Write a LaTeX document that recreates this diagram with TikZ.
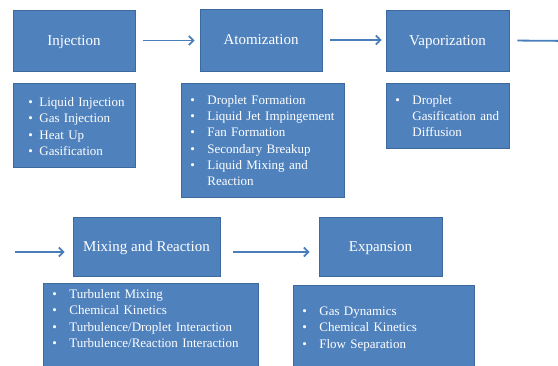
\documentclass[tikz,border=0pt]{standalone}
\usepackage{fontspec}
\setmainfont{Liberation Serif}
\usepackage{tikz}
\usetikzlibrary{arrows.meta, positioning}

\definecolor{boxblue}{HTML}{4F81BD}
\definecolor{boxline}{HTML}{3D6A9E}
\definecolor{arrowblue}{HTML}{4A7EBB}

% bullet line: optional indent of the bullet, text always 26pt in
\newcommand{\bl}[2][9pt]{\mbox{\hspace*{#1}\makebox[\dimexpr26pt-#1\relax][l]{\textbullet}#2}}
\newcommand{\cl}[1]{\mbox{\hspace*{26pt}#1}}

\begin{document}
\begin{tikzpicture}[
    x=1pt, y=1pt,
    stage/.style={rectangle, draw=boxline, fill=boxblue, line width=0.8pt, text=white,
        font=\fontsize{15}{18}\selectfont, inner sep=0pt, text height=10pt, text depth=0pt},
    list/.style={rectangle, draw=boxline, fill=boxblue, line width=0.8pt, text=white,
        font=\fontsize{13}{16.3}\selectfont, inner sep=0pt, align=left, anchor=north west},
    arr/.style={-{Straight Barb[length=4.5pt, width=9pt]}, line width=1.8pt, arrowblue}
    ]
    \useasboundingbox (0,0) rectangle (558,365);

    % Stages, top row
    \node[stage, minimum width=122, minimum height=61] (inj) at (74,324.5) {Injection};
    \node[stage, minimum width=122, minimum height=62] (atom) at (261,325) {Atomization};
    \node[stage, minimum width=123, minimum height=61] (vap) at (447.5,324.5) {Vaporization};

    % Stages, bottom row
    \node[stage, minimum width=147, minimum height=59] (mix) at (146.5,118.5) {Mixing and Reaction};
    \node[stage, minimum width=123, minimum height=59] (exp) at (380.5,118.5) {Expansion};

    % Lists
    \node[list, text width=122, text height=23, text depth=61] (injlist) at (13,282)
        {\bl[15pt]{Liquid Injection}\\ \bl[15pt]{Gas Injection}\\ \bl[15pt]{Heat Up}\\ \bl[15pt]{Gasification}};
    \node[list, text width=163, text height=21, text depth=93] (atomlist) at (181,282)
        {\bl{Droplet Formation}\\ \bl{Liquid Jet Impingement}\\ \bl{Fan Formation}\\
         \bl{Secondary Breakup}\\ \bl{Liquid Mixing and}\\ \cl{Reaction}};
    \node[list, text width=123, text height=21, text depth=44] (vaplist) at (386,282)
        {\bl{Droplet}\\ \cl{Gasification and}\\ \cl{Diffusion}};
    \node[list, text width=215, text height=15, text depth=75] (mixlist) at (43,82)
        {\bl{Turbulent Mixing}\\ \bl{Chemical Kinetics}\\ \bl{Turbulence/Droplet Interaction}\\
         \bl{Turbulence/Reaction Interaction}};
    \node[list, text width=181, text height=30, text depth=60] (explist) at (293,80)
        {\bl{Gas Dynamics}\\ \bl{Chemical Kinetics}\\ \bl{Flow Separation}};

    % Arrows
    \coordinate (vapout) at (575,324);
    \coordinate (mixin) at (15,113);
    \draw[arr, shorten <=8pt, shorten >=5pt] (inj.east) -- (inj.east -| atom.west);
    \draw[arr, shorten <=8pt, shorten >=4pt] (atom.east) -- (atom.east -| vap.west);
    \draw[arr, shorten <=8pt] (vap.east) -- (vapout);
    \draw[arr, shorten >=8pt] (mixin) -- (mixin -| mix.west);
    \draw[arr, shorten <=13pt, shorten >=9pt] ([yshift=-5.5pt]mix.east) -- ([yshift=-5.5pt]exp.west);
\end{tikzpicture}
\end{document}
